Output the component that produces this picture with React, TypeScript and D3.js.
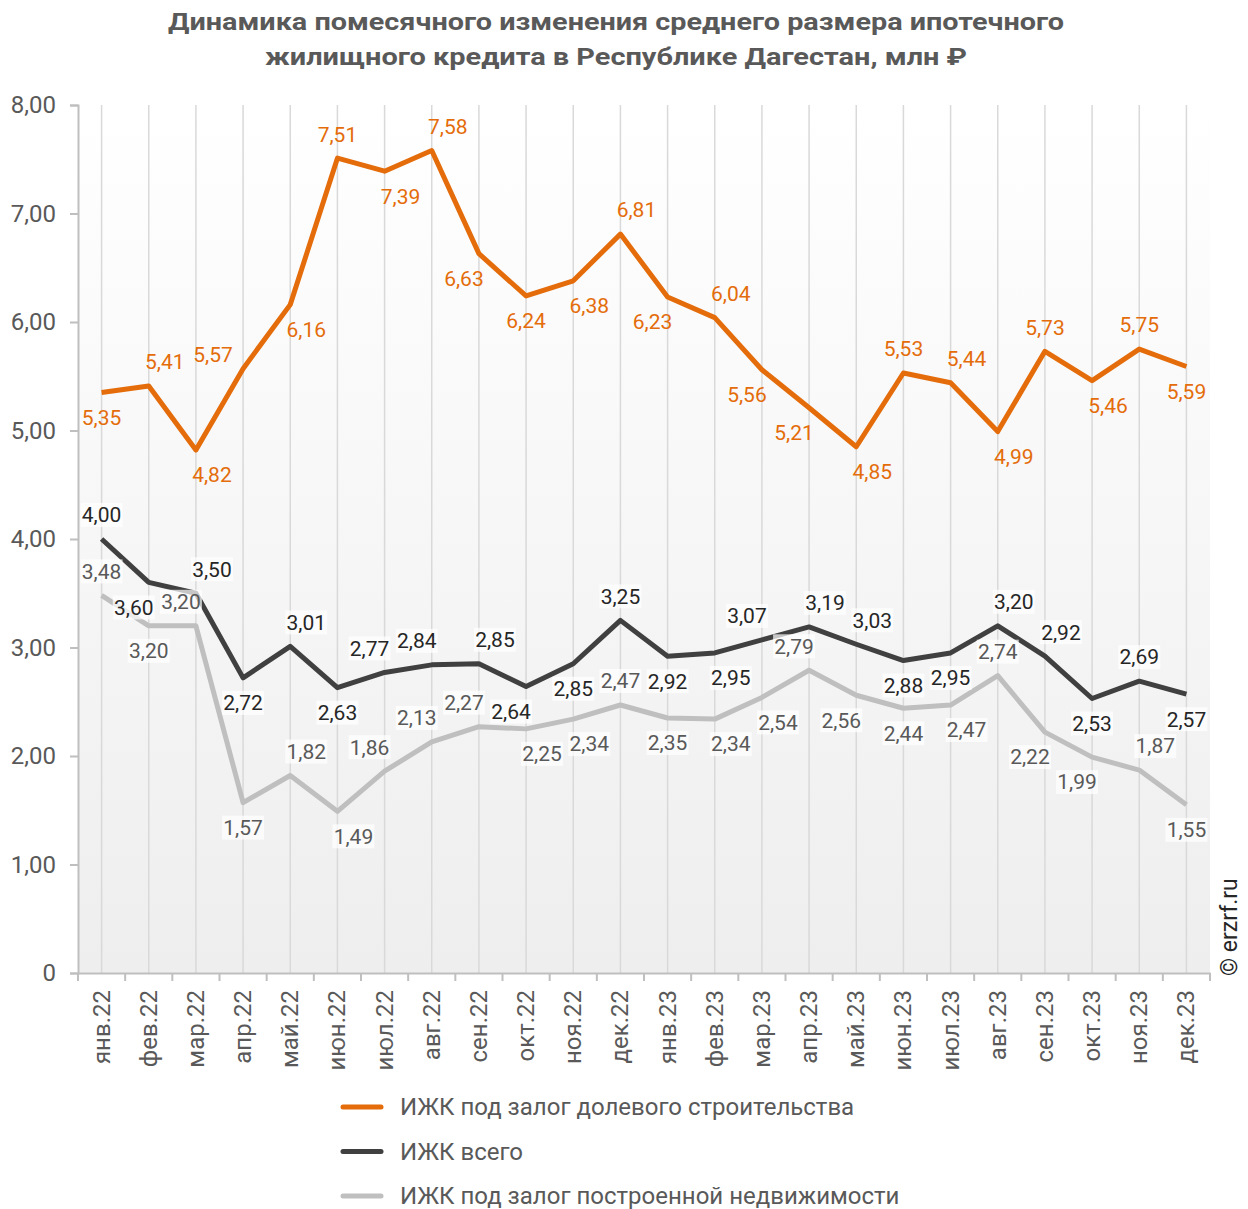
import { useRef, useEffect } from 'react';
import * as d3 from 'd3';

const months = [
  'янв.22', 'фев.22', 'мар.22', 'апр.22', 'май.22', 'июн.22', 'июл.22', 'авг.22',
  'сен.22', 'окт.22', 'ноя.22', 'дек.22', 'янв.23', 'фев.23', 'мар.23', 'апр.23',
  'май.23', 'июн.23', 'июл.23', 'авг.23', 'сен.23', 'окт.23', 'ноя.23', 'дек.23',
];

const shareValues = [
  5.35, 5.41, 4.82, 5.57, 6.16, 7.51, 7.39, 7.58, 6.63, 6.24, 6.38, 6.81,
  6.23, 6.04, 5.56, 5.21, 4.85, 5.53, 5.44, 4.99, 5.73, 5.46, 5.75, 5.59,
];
const totalValues = [
  4.0, 3.6, 3.5, 2.72, 3.01, 2.63, 2.77, 2.84, 2.85, 2.64, 2.85, 3.25,
  2.92, 2.95, 3.07, 3.19, 3.03, 2.88, 2.95, 3.2, 2.92, 2.53, 2.69, 2.57,
];
const builtValues = [
  3.48, 3.2, 3.2, 1.57, 1.82, 1.49, 1.86, 2.13, 2.27, 2.25, 2.34, 2.47,
  2.35, 2.34, 2.54, 2.79, 2.56, 2.44, 2.47, 2.74, 2.22, 1.99, 1.87, 1.55,
];

const yTicks = [0, 1, 2, 3, 4, 5, 6, 7, 8];

const seriesNames = [
  'ИЖК под залог долевого строительства',
  'ИЖК всего',
  'ИЖК под залог построенной недвижимости',
];

// label placement: t/b = above/below, l/r = shifted sideways, L = to the left
const shareLabelPos = [
  'b', 'tr', 'br', 'L', 'br', 't', 'br', 'tr', 'bl', 'b', 'br', 'tr',
  'bl', 'tr', 'bl', 'bl', 'br', 't', 'tr', 'br', 't', 'br', 't', 'b',
];
const totalLabelPos = [
  't', 'bl', 'tr', 'b', 'tr', 'b', 'tl', 'tl', 'tr', 'bl', 'b', 't',
  'b', 'br', 'tl', 'tr', 'tr', 'b', 'b', 'tr', 'tr', 'b', 't', 'b',
];
const builtLabelPos = [
  't', 'b', 'tl', 'b', 'tr', 'br', 'tl', 'tl', 'tl', 'br', 'br', 't',
  'b', 'br', 'br', 'tl', 'bl', 'b', 'br', 't', 'bl', 'bl', 'tr', 'b',
];

const fmt = (v: number) => v.toFixed(2).replace('.', ',');

export default function App() {
  const svgRef = useRef<SVGSVGElement>(null);

  useEffect(() => {
    if (!svgRef.current) return;
    const svg = d3.select(svgRef.current);
    svg.selectAll('*').remove();

    const width = 1248;
    const height = 1209;
    const font = 'Roboto, "Noto Sans", sans-serif';
    const margin = { top: 105, right: 38, bottom: 236, left: 78 };
    const innerW = width - margin.left - margin.right;
    const innerH = height - margin.top - margin.bottom;

    const x = d3.scaleBand().domain(months).range([0, innerW]);
    const y = d3.scaleLinear().domain([0, 8]).range([innerH, 0]);
    const cx = (m: string) => (x(m) || 0) + x.bandwidth() / 2;

    // background gradient for plot area
    const defs = svg.append('defs');
    const grad = defs
      .append('linearGradient')
      .attr('id', 'bg')
      .attr('x1', 0)
      .attr('y1', 0)
      .attr('x2', 0)
      .attr('y2', 1);
    grad.append('stop').attr('offset', '0%').attr('stop-color', '#ffffff');
    grad.append('stop').attr('offset', '100%').attr('stop-color', '#eeeeee');

    // title
    const titleLines = [
      'Динамика помесячного изменения среднего размера ипотечного',
      'жилищного кредита в Республике Дагестан, млн ₽',
    ];
    const titleWidths = [896, 702];
    svg
      .selectAll('.title')
      .data(titleLines)
      .join('text')
      .attr('class', 'title')
      .attr('x', 616)
      .attr('y', (_, i) => 30 + i * 35)
      .attr('text-anchor', 'middle')
      .attr('font-family', font)
      .attr('font-weight', 700)
      .attr('font-size', 24)
      .attr('fill', '#595959')
      .attr('textLength', (_, i) => titleWidths[i])
      .attr('lengthAdjust', 'spacingAndGlyphs')
      .text((d) => d);

    const g = svg
      .append('g')
      .attr('transform', `translate(${margin.left},${margin.top})`);

    g.append('rect')
      .attr('width', innerW)
      .attr('height', innerH)
      .attr('fill', 'url(#bg)');

    // vertical gridlines at category centres
    g.selectAll('.vgrid')
      .data(months)
      .join('line')
      .attr('class', 'vgrid')
      .attr('x1', (d) => cx(d))
      .attr('x2', (d) => cx(d))
      .attr('y1', 0)
      .attr('y2', innerH)
      .attr('stroke', '#d9d9d9')
      .attr('stroke-width', 1.5);

    // y axis
    const yAxis = g
      .append('g')
      .call(
        d3
          .axisLeft(y)
          .tickValues(yTicks)
          .tickSize(8)
          .tickPadding(14)
          .tickFormat((d) => (d === 0 ? '0' : fmt(d as number)))
      );
    yAxis.select('.domain').attr('stroke', '#bfbfbf').attr('stroke-width', 2);
    yAxis.selectAll('.tick line').attr('stroke', '#bfbfbf').attr('stroke-width', 2);
    yAxis
      .selectAll('.tick text')
      .attr('font-family', font)
      .attr('font-size', 24)
      .attr('fill', '#595959');

    // x axis
    const xAxis = g
      .append('g')
      .attr('transform', `translate(0,${innerH})`)
      .call(d3.axisBottom(x).tickSize(0).tickFormat(() => ''));
    xAxis.select('.domain').attr('stroke', '#bfbfbf').attr('stroke-width', 2);
    xAxis.selectAll('.tick').remove();

    // x tick marks at band boundaries
    const bounds = months.map((m) => x(m) || 0).concat([innerW]);
    g.selectAll('.xtick')
      .data(bounds)
      .join('line')
      .attr('class', 'xtick')
      .attr('x1', (d) => d)
      .attr('x2', (d) => d)
      .attr('y1', innerH)
      .attr('y2', innerH + 8)
      .attr('stroke', '#bfbfbf')
      .attr('stroke-width', 2);

    g.selectAll('.xlabel')
      .data(months)
      .join('text')
      .attr('class', 'xlabel')
      .attr('transform', (d) => `translate(${cx(d) + 8},${innerH + 17}) rotate(-90)`)
      .attr('text-anchor', 'end')
      .attr('font-family', font)
      .attr('font-size', 24)
      .attr('fill', '#595959')
      .text((d) => d);

    const series = [
      { name: seriesNames[0], values: shareValues, pos: shareLabelPos, color: '#e46c0a', text: '#e46c0a', box: false },
      { name: seriesNames[1], values: totalValues, pos: totalLabelPos, color: '#404040', text: '#262626', box: true },
      { name: seriesNames[2], values: builtValues, pos: builtLabelPos, color: '#bfbfbf', text: '#595959', box: true },
    ];

    const line = d3
      .line<number>()
      .x((_, i) => cx(months[i]))
      .y((d) => y(d));

    // draw lines back to front
    [...series].reverse().forEach((s) => {
      g.append('path')
        .datum(s.values)
        .attr('fill', 'none')
        .attr('stroke', s.color)
        .attr('stroke-width', 5)
        .attr('stroke-linejoin', 'round')
        .attr('d', line);
    });

    // data labels
    const offset = (p: string) => {
      if (p === 'L') return { dx: -30, dy: -14 };
      let dx = 0;
      const dy = p.includes('t') ? -24 : 25;
      if (p.includes('l')) dx = -15;
      if (p.includes('r')) dx = 16;
      return { dx, dy };
    };

    [...series].reverse().forEach((s) => {
      const lg = g.append('g');
      s.values.forEach((v, i) => {
        const { dx, dy } = offset(s.pos[i]);
        const px = cx(months[i]) + dx;
        const py = y(v) + dy;
        if (s.box) {
          lg.append('rect')
            .attr('x', px - 21)
            .attr('y', py - 12)
            .attr('width', 42)
            .attr('height', 24)
            .attr('fill', '#ffffff')
            .attr('fill-opacity', 0.7);
        }
        lg.append('text')
          .attr('x', px)
          .attr('y', py)
          .attr('dy', '0.35em')
          .attr('text-anchor', 'middle')
          .attr('font-family', font)
          .attr('font-size', 21)
          .attr('fill', s.text)
          .text(fmt(v));
      });
    });

    // legend
    const legend = svg
      .append('g')
      .attr('transform', 'translate(343,1107)');
    legend
      .selectAll('line')
      .data(series)
      .join('line')
      .attr('x1', 0)
      .attr('x2', 38)
      .attr('y1', (_, i) => i * 44.5)
      .attr('y2', (_, i) => i * 44.5)
      .attr('stroke', (d) => d.color)
      .attr('stroke-width', 5)
      .attr('stroke-linecap', 'round');
    legend
      .selectAll('text')
      .data(series)
      .join('text')
      .attr('x', 57)
      .attr('y', (_, i) => i * 44.5)
      .attr('dy', '0.35em')
      .attr('font-family', font)
      .attr('font-size', 24)
      .attr('fill', '#595959')
      .text((d) => d.name);

    // watermark
    svg
      .append('text')
      .attr('transform', 'translate(1237,976) rotate(-90)')
      .attr('font-family', font)
      .attr('font-size', 23)
      .attr('fill', '#262626')
      .text('© erzrf.ru');
  }, []);

  return (
    <svg
      ref={svgRef}
      width={1248}
      height={1209}
      style={{ position: 'absolute', left: 0, top: 0, background: '#ffffff' }}
    />
  );
}
